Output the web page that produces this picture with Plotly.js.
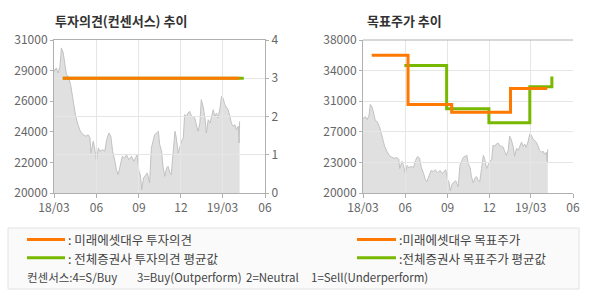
<!DOCTYPE html>
<html>
<head>
<meta charset="utf-8">
<script src="https://cdn.plot.ly/plotly-3.0.1.min.js"></script>
<style>html,body{margin:0;padding:0;background:#fff;}#chart{width:590px;height:300px;}</style>
</head>
<body>
<div id="chart"></div>
<script>
// ---------- data ----------
const priceDates = [
'2018-03-01','2018-03-02','2018-03-06','2018-03-10','2018-03-14','2018-03-17','2018-03-21','2018-03-24','2018-03-28',
'2018-04-01','2018-04-06','2018-04-10','2018-04-14','2018-04-17','2018-04-22','2018-04-27',
'2018-05-03','2018-05-09','2018-05-14','2018-05-18','2018-05-20','2018-05-25','2018-05-28',
'2018-06-01','2018-06-05','2018-06-08','2018-06-14','2018-06-19','2018-06-23','2018-06-28',
'2018-07-02','2018-07-06','2018-07-11','2018-07-14','2018-07-18','2018-07-22','2018-07-27',
'2018-08-01','2018-08-05','2018-08-10','2018-08-16','2018-08-21','2018-08-25','2018-08-28',
'2018-09-01','2018-09-04','2018-09-07','2018-09-11','2018-09-19','2018-09-24','2018-09-28',
'2018-10-02','2018-10-05','2018-10-09','2018-10-13','2018-10-16','2018-10-20','2018-10-23','2018-10-27','2018-10-31',
'2018-11-03','2018-11-07','2018-11-10','2018-11-14','2018-11-18','2018-11-21','2018-11-25','2018-11-28',
'2018-12-02','2018-12-06','2018-12-09','2018-12-13','2018-12-16','2018-12-20','2018-12-24','2018-12-27','2018-12-31',
'2019-01-04','2019-01-07','2019-01-11','2019-01-14','2019-01-18','2019-01-22','2019-01-25','2019-01-29',
'2019-02-02','2019-02-05','2019-02-09','2019-02-12','2019-02-16','2019-02-19','2019-02-23','2019-02-27',
'2019-03-02','2019-03-06','2019-03-10','2019-03-13','2019-03-17','2019-03-20','2019-03-24','2019-03-28','2019-03-31',
'2019-04-04','2019-04-06','2019-04-07'];
const priceValues = [
28900,28750,28990,28630,29110,30430,30070,29220,28500,
28390,27790,26950,26110,25510,24910,24440,
24190,24080,24190,23950,22880,23720,23240,
22280,23240,23000,23110,23000,23830,24310,
24080,23000,22280,21680,21320,22030,22640,
22520,22750,22390,22640,22280,22520,22750,
21560,21320,20240,21080,21440,20720,23240,
23950,24190,24310,24440,23470,23000,21920,21200,21800,
21920,21440,21320,22880,24440,23950,22880,23240,
23720,23950,25630,25510,25750,25870,25510,25510,25390,
24800,24440,25030,26710,26230,25390,24310,25270,
25030,25390,25990,25510,25750,25390,25990,26950,
26830,26350,26110,25990,25510,25030,24800,24910,24550,
24800,23590,25150];

// investment opinion (4=S/Buy, 3=Buy, 2=Neutral, 1=Sell)
const miraeOpinionDates = ['2018-03-20','2019-04-06'];
const miraeOpinionValues = [3,3];
const avgOpinionDates = ['2018-03-20','2019-04-16'];
const avgOpinionValues = [3,3];

// target prices (step lines)
const miraeTargetDates = ['2018-03-20','2018-06-07','2018-09-10','2019-01-16','2019-04-06'];
const miraeTargetValues = [36200,30400,29500,32300,32300];
const avgTargetDates = ['2018-05-30','2018-08-30','2018-11-30','2019-02-27','2019-04-16'];
const avgTargetValues = [35000,29900,28250,32500,33700];

// axis ticks
const xTickVals = ['2018-03-01','2018-06-01','2018-09-01','2018-12-01','2019-03-01','2019-06-01'];
const xTickText = ['18/03','06','09','12','19/03','06'];
const xRange = ['2018-03-01','2019-06-01'];
const leftPriceTickVals = [20000,22200,24400,26600,28800,31000];
const leftPriceTickText = ['20000','22000','24000','26000','29000','31000'];
const opinionTickVals = [0,1,2,3,4];
const rightPriceTickVals = [20000,23600,27200,30800,34400,38000];
const rightPriceTickText = ['20000','23000','27000','31000','34000','38000'];

// ---------- styling ----------
const ORANGE = '#ff7800';
const GREEN = '#77b800';
const AREA = '#e0e0e0';
const AREALINE = '#c2c2c2';
const GRID = '#e6e6e6';
const AXIS = '#b0b0b0';
const TICKFONT = {family: 'Noto Sans CJK KR, DejaVu Sans, sans-serif', size: 12, color: '#666'};
const FONT = 'Noto Sans CJK KR, sans-serif';

const W = 590, H = 300;
const px = v => v / W;
const py = v => 1 - v / H;
const domL = [px(54), px(265)];
const domR = [px(363), px(573)];
const domY = [py(193), py(40)];

const traces = [
  {x: priceDates, y: priceValues, xaxis: 'x', yaxis: 'y', type: 'scatter', mode: 'lines',
   fill: 'tozeroy', fillcolor: AREA, line: {color: AREALINE, width: 1}, hoverinfo: 'skip'},
  {x: avgOpinionDates, y: avgOpinionValues, xaxis: 'x2', yaxis: 'y2', type: 'scatter', mode: 'lines',
   line: {color: GREEN, width: 3}},
  {x: miraeOpinionDates, y: miraeOpinionValues, xaxis: 'x2', yaxis: 'y2', type: 'scatter', mode: 'lines',
   line: {color: ORANGE, width: 3}},
  {x: priceDates, y: priceValues, xaxis: 'x3', yaxis: 'y3', type: 'scatter', mode: 'lines',
   fill: 'tozeroy', fillcolor: AREA, line: {color: AREALINE, width: 1}, hoverinfo: 'skip'},
  {x: avgTargetDates, y: avgTargetValues, xaxis: 'x4', yaxis: 'y4', type: 'scatter', mode: 'lines',
   line: {color: GREEN, width: 3, shape: 'hv'}},
  {x: miraeTargetDates, y: miraeTargetValues, xaxis: 'x4', yaxis: 'y4', type: 'scatter', mode: 'lines',
   line: {color: ORANGE, width: 3, shape: 'hv'}}
];

const hiddenX = dom => ({type: 'date', domain: dom, range: xRange, visible: false, fixedrange: true});
const gridX = (dom, anchor) => ({
  type: 'date', domain: dom, range: xRange, anchor: anchor,
  tickmode: 'array', tickvals: xTickVals, ticktext: xTickText,
  showgrid: true, gridcolor: GRID, gridwidth: 1, zeroline: false,
  showline: true, linecolor: AXIS, linewidth: 1, mirror: true,
  ticks: 'outside', ticklen: 4, tickcolor: AXIS, tickfont: TICKFONT
});

const layout = {
  width: W, height: H,
  margin: {l: 0, r: 0, t: 0, b: 0},
  paper_bgcolor: '#fff', plot_bgcolor: 'rgba(0,0,0,0)',
  showlegend: false,
  font: {family: FONT},
  xaxis: hiddenX(domL),
  yaxis: {domain: domY, anchor: 'x', range: [20000, 31000], tickmode: 'array',
          tickvals: leftPriceTickVals, ticktext: leftPriceTickText, showgrid: false, zeroline: false,
          showline: false, ticks: 'outside', ticklen: 3, tickcolor: AXIS, tickfont: TICKFONT},
  xaxis2: gridX(domL, 'y2'),
  yaxis2: {domain: domY, anchor: 'x2', side: 'right', range: [0, 4], tickmode: 'array',
           tickvals: opinionTickVals, showgrid: true, gridcolor: GRID, zeroline: false,
           showline: true, linecolor: AXIS, mirror: true, ticks: 'outside', ticklen: 3,
           tickcolor: AXIS, tickfont: TICKFONT},
  xaxis3: hiddenX(domR),
  yaxis3: {domain: domY, anchor: 'x3', range: [20000, 38000], visible: false},
  xaxis4: Object.assign(gridX(domR, 'y4'), {mirror: false}),
  yaxis4: {domain: domY, anchor: 'x4', range: [20000, 38000], tickmode: 'array',
           tickvals: rightPriceTickVals, ticktext: rightPriceTickText, showgrid: true, gridcolor: GRID,
           zeroline: false, showline: true, linecolor: AXIS, ticks: 'outside', ticklen: 3,
           tickcolor: AXIS, tickfont: TICKFONT},
  shapes: [
    {type: 'line', xref: 'paper', yref: 'paper', x0: domR[0], x1: domR[1], y0: domY[1], y1: domY[1],
     line: {color: AXIS, width: 1}},
    {type: 'rect', xref: 'paper', yref: 'paper', x0: px(8), x1: px(579), y0: py(289), y1: py(228),
     fillcolor: '#fafafa', line: {color: '#e2e2e2', width: 1}, layer: 'below'},
    {type: 'line', xref: 'paper', yref: 'paper', x0: px(27), x1: px(65), y0: py(239.5), y1: py(239.5),
     line: {color: ORANGE, width: 3}},
    {type: 'line', xref: 'paper', yref: 'paper', x0: px(27), x1: px(65), y0: py(257.7), y1: py(257.7),
     line: {color: GREEN, width: 3}},
    {type: 'line', xref: 'paper', yref: 'paper', x0: px(357), x1: px(396), y0: py(239.5), y1: py(239.5),
     line: {color: ORANGE, width: 3}},
    {type: 'line', xref: 'paper', yref: 'paper', x0: px(357), x1: px(396), y0: py(257.7), y1: py(257.7),
     line: {color: GREEN, width: 3}}
  ],
  annotations: []
};

function ann(text, x, y, size, color, bold) {
  layout.annotations.push({
    text: bold ? '<b>' + text + '</b>' : text,
    xref: 'paper', yref: 'paper', x: px(x), y: py(y), xanchor: 'left', yanchor: 'middle',
    showarrow: false, borderpad: 0, font: {family: FONT, size: size, color: color}
  });
}
ann('투자의견(컨센서스) 추이', 54, 20.5, 13, '#333', true);
ann('목표주가 추이', 366, 20.5, 13, '#333', true);
ann(':\u00a0미래에셋대우 투자의견', 67, 239.5, 12.5, '#444', false);
ann(':\u00a0전체증권사 투자의견 평균값', 67, 258, 12.5, '#444', false);
ann(':미래에셋대우 목표주가', 398, 239.5, 12.5, '#444', false);
ann(':전체증권사 목표주가 평균값', 398, 258, 12.5, '#444', false);
ann('컨센서스:4=S/Buy', 26, 276.5, 11.5, '#444', false);
ann('3=Buy(Outperform)', 136, 276.5, 11.5, '#444', false);
ann('2=Neutral', 245, 276.5, 11.5, '#444', false);
ann('1=Sell(Underperform)', 310, 276.5, 11.5, '#444', false);

Plotly.newPlot('chart', traces, layout, {staticPlot: true, displayModeBar: false});
</script>
</body>
</html>
